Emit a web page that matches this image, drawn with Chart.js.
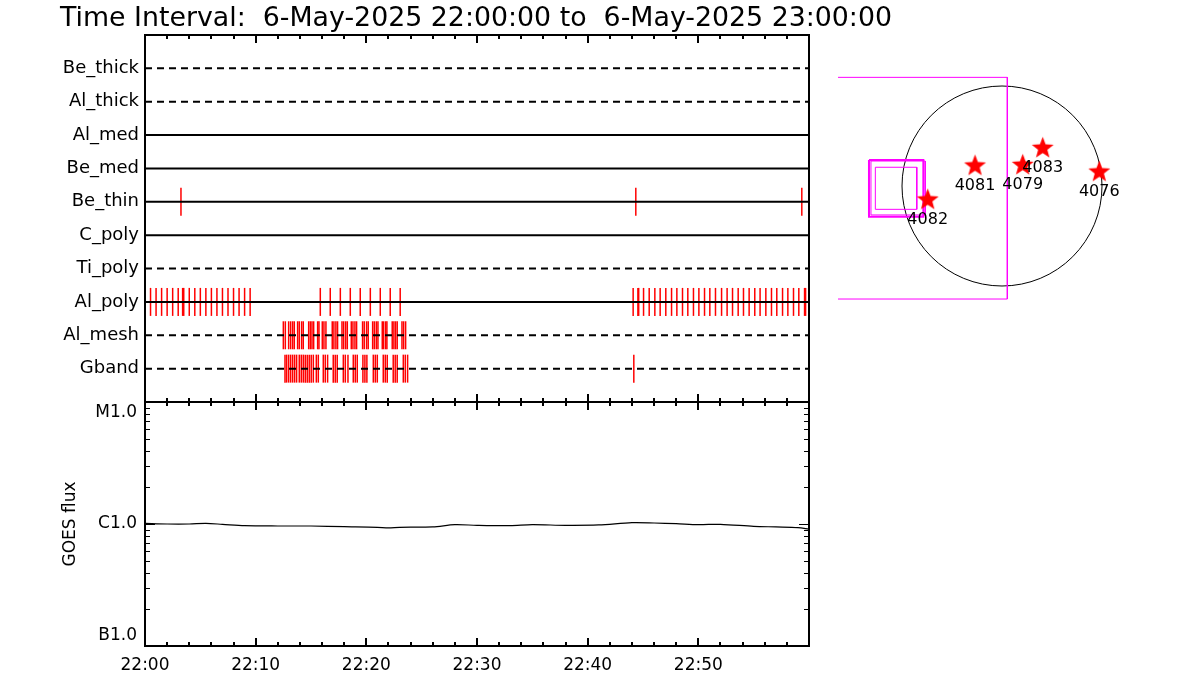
<!DOCTYPE html>
<html><head><meta charset="utf-8">
<script src="https://cdn.jsdelivr.net/npm/chart.js@4.4.1/dist/chart.umd.min.js"></script>
<style>
html,body{margin:0;padding:0;background:#fff}
#wrap{position:relative;width:1200px;height:700px;background:#fff}
#sun{position:absolute;left:838px;top:60px}
</style>
</head><body>
<div id="wrap">
<canvas id="main" width="1200" height="700" style="width:1200px;height:700px"></canvas>
<canvas id="sun" width="290" height="250" style="width:290px;height:250px"></canvas>
</div>
<script>
// ---------- data ----------
const titleText = 'Time Interval:  6-May-2025 22:00:00 to  6-May-2025 23:00:00';
const rowNames = ['Be_thick','Al_thick','Al_med','Be_med','Be_thin','C_poly','Ti_poly','Al_poly','Al_mesh','Gband'];
const rowDashed = [true, true, false, false, false, false, true, false, true, true];

// exposure times, minutes after 22:00
const beThinTimes = [3.25, 44.35, 59.35];
const alPolyTimes = [0.0, 0.5, 1.0, 1.5, 2.0, 2.5, 3.0, 3.4, 3.5, 4.0, 4.5, 5.0, 5.5, 6.0, 6.5, 7.0, 7.5, 8.0, 8.5, 9.0, 9.5,
  15.84, 16.74, 17.65, 18.55, 19.45, 20.36, 21.26, 22.16, 23.06,
  44.11, 44.54, 44.61, 45.05, 45.56, 46.07, 46.55, 47.06, 47.58, 48.06, 48.57, 49.05, 49.56, 50.05, 50.56, 51.04, 51.55,
  52.10, 52.60, 53.09, 53.60, 54.08, 54.59, 55.10, 55.58, 56.10, 56.61, 57.09, 57.61, 58.09, 58.60, 59.08, 59.60, 59.69];
const alMeshTimes = [12.50, 12.68, 12.98, 13.16, 13.34, 13.49, 13.79, 13.94, 14.15, 14.30, 14.79, 14.94, 15.09, 15.24,
  15.60, 15.72, 16.02, 16.17, 16.35, 16.92, 17.07, 17.25, 17.40, 17.80, 17.95, 18.13, 18.28, 18.64, 18.79, 18.97, 19.12,
  19.66, 19.81, 20.02, 20.17, 20.57, 20.72, 20.90, 21.05, 21.44, 21.56, 21.74, 21.86, 22.34, 22.49, 22.64, 22.79,
  23.22, 23.37, 23.55];
const gbandTimes = [12.65, 12.80, 12.98, 13.16, 13.34, 13.52, 13.70, 13.94, 14.12, 14.30, 14.48, 14.66, 14.84, 15.02,
  15.21, 15.48, 15.66, 16.11, 16.29, 16.50, 17.01, 17.19, 17.37, 17.92, 18.10, 18.34, 18.82, 19.00, 19.18, 19.69,
  19.87, 20.05, 20.63, 20.81, 20.99, 21.53, 21.71, 21.89, 22.43, 22.61, 22.79, 23.34, 23.52, 23.73, 44.17];
const rowExposures = [[], [], [], [], beThinTimes, [], [], alPolyTimes, alMeshTimes, gbandTimes];

const xTickValues = [0, 10, 20, 30, 40, 50];
const xTickLabels = ['22:00', '22:10', '22:20', '22:30', '22:40', '22:50'];
const xMinorTicks = [0, 2, 4, 6, 8, 10, 12, 14, 16, 18, 20, 22, 24, 26, 28, 30, 32, 34, 36, 38, 40, 42, 44, 46, 48, 50, 52, 54, 56, 58, 60];
const xMajorTicks = [0, 10, 20, 30, 40, 50, 60];

const goesMinutes = [0, 2, 4, 5.5, 7, 9, 12, 15, 18, 21, 22, 23, 26, 28, 30, 33, 35, 38, 41, 44, 46, 48, 50, 52, 55, 57, 59, 60];
const goesFlux = [1.012e-6, 1.0e-6, 1.0e-6, 1.012e-6, 0.994e-6, 0.969e-6, 0.963e-6, 0.963e-6, 0.951e-6, 0.940e-6, 0.928e-6,
  0.940e-6, 0.946e-6, 0.988e-6, 0.975e-6, 0.969e-6, 0.988e-6, 0.975e-6, 0.982e-6, 1.025e-6, 1.019e-6, 1.006e-6, 0.988e-6,
  0.994e-6, 0.957e-6, 0.946e-6, 0.934e-6, 0.905e-6];
const goesTickValues = [1e-7, 1e-6, 1e-5];
const goesTickLabels = ['B1.0', 'C1.0', 'M1.0'];
const goesMinorTicks = [2e-7, 3e-7, 4e-7, 5e-7, 6e-7, 7e-7, 8e-7, 9e-7, 2e-6, 3e-6, 4e-6, 5e-6, 6e-6, 7e-6, 8e-6, 9e-6];
const goesMajorTicks = [1e-6];

// solar context map (arcsec)
const sunRadius = 960;
const arNumbers = ['4081', '4079', '4083', '4076', '4082'];
const arX = [-259, 199, 391, 934, -713];
const arY = [192, 199, 362, 134, -134];
const fovOuterX = [-2000, 51, 51, -2000];
const fovOuterY = [1043, 1043, -1085, -1085];
const fovThickX = [-1277, -755, -755, -1277, -1277];
const fovThickY = [250, 250, -295, -295, 250];
const fovThinX = [-1258, -737, -737, -1258, -1258];
const fovThinY = [240, 240, -278, -278, 240];
const fovInnerX = [-1216, -818, -818, -1216, -1216];
const fovInnerY = [180, 180, -224, -224, 180];

// ---------- main chart ----------
Chart.defaults.font.family = 'DejaVu Sans';
Chart.defaults.color = '#000';

const datasets = [];
rowNames.forEach((name, i) => {
  datasets.push({
    type: 'line', label: name, showLine: true, yAxisID: 'y', xAxisID: 'x',
    data: [{x: 0, y: i + 1}, {x: 60, y: i + 1}],
    borderColor: '#000', borderWidth: 2, borderDash: rowDashed[i] ? [7, 5] : [],
    pointRadius: 0, order: 1
  });
});
rowExposures.forEach((times, i) => {
  if (!times.length) return;
  datasets.push({
    type: 'scatter', label: rowNames[i] + ' exposures', yAxisID: 'y', xAxisID: 'x',
    data: times.map(t => ({x: t, y: i + 1})),
    pointStyle: 'line', pointRotation: 90, pointRadius: 14, pointHoverRadius: 14,
    pointBorderColor: '#ff0000', pointBorderWidth: 1.5, order: 2
  });
});
datasets.push({
  type: 'line', label: 'GOES', showLine: true, yAxisID: 'yGoes', xAxisID: 'x',
  data: goesMinutes.map((m, i) => ({x: m, y: goesFlux[i]})),
  borderColor: '#000', borderWidth: 1.2, pointRadius: 0, tension: 0.3, order: 1
});

const framePlugin = {
  id: 'frames',
  afterDatasetsDraw(chart) {
    const ctx = chart.ctx;
    const x = chart.scales.x, yr = chart.scales.y, yg = chart.scales.yGoes;
    ctx.save();
    ctx.strokeStyle = '#000';
    ctx.lineWidth = 2;
    ctx.strokeRect(x.left, yr.top, x.right - x.left, yr.bottom - yr.top);
    ctx.strokeRect(x.left, yg.top, x.right - x.left, yg.bottom - yg.top);
    const edges = [[yr.top, 1], [yr.bottom, -1], [yg.top, 1], [yg.bottom, -1]];
    ctx.beginPath();
    xMinorTicks.forEach(m => {
      const px = Math.round(x.getPixelForValue(m));
      const len = xMajorTicks.includes(m) ? 8 : 4;
      edges.forEach(([y, d]) => { ctx.moveTo(px, y); ctx.lineTo(px, y + d * len); });
    });
    ctx.stroke();
    ctx.lineWidth = 1;
    ctx.beginPath();
    const side = (v, len) => {
      const py = Math.round(yg.getPixelForValue(v)) + 0.5;
      ctx.moveTo(x.left, py); ctx.lineTo(x.left + len, py);
      ctx.moveTo(x.right, py); ctx.lineTo(x.right - len, py);
    };
    goesMinorTicks.forEach(v => side(v, 5));
    goesMajorTicks.forEach(v => side(v, 10));
    ctx.stroke();
    ctx.restore();
  }
};

new Chart(document.getElementById('main'), {
  type: 'scatter',
  data: {datasets},
  options: {
    responsive: false, animation: false, devicePixelRatio: 1,
    layout: {padding: {left: 60, right: 0, top: 0, bottom: 0}, autoPadding: false},
    plugins: {
      legend: {display: false}, tooltip: {enabled: false},
      title: {display: true, text: titleText, align: 'start', color: '#000',
        font: {family: 'DejaVu Sans', size: 26.8, weight: 'normal', lineHeight: 1.1}, padding: {top: 4, bottom: 1.52}}
    },
    scales: {
      x: {
        type: 'linear', position: 'bottom', min: 0, max: 60,
        grid: {display: false, drawTicks: false}, border: {display: false},
        ticks: {stepSize: 10, autoSkip: false, maxRotation: 0, padding: 9, font: {size: 17},
          callback: v => { const k = xTickValues.indexOf(v); return k >= 0 ? xTickLabels[k] : ''; }},
        afterFit: s => { s.height = 54; }
      },
      yGoes: {
        type: 'logarithmic', position: 'left', stack: 'left', stackWeight: 244, min: 1e-7, max: 1e-5,
        grid: {display: false, drawTicks: false}, border: {display: false},
        ticks: {autoSkip: false, padding: 8, font: {size: 17},
          callback: v => {
            const k = goesTickValues.findIndex(t => Math.abs(t - v) / t < 1e-6);
            if (k < 0) return '';
            if (k === 0) return [goesTickLabels[k], ''];
            if (k === goesTickValues.length - 1) return ['', goesTickLabels[k]];
            return goesTickLabels[k];
          }},
        title: {display: true, text: 'GOES flux', font: {size: 17}, padding: {top: 0, bottom: 0}},
        afterFit: s => { s.width = 85; }
      },
      y: {
        type: 'linear', position: 'left', stack: 'left', stackWeight: 367, min: 0, max: 11, reverse: true,
        grid: {display: false, drawTicks: false}, border: {display: false},
        ticks: {stepSize: 1, autoSkip: false, padding: 6, font: {size: 18},
          callback: v => (v >= 1 && v <= rowNames.length) ? rowNames[v - 1] : ''},
        afterFit: s => { s.width = 85; }
      },
      yPad: {
        type: 'linear', position: 'right', display: true,
        grid: {display: false, drawTicks: false}, border: {display: false},
        ticks: {display: false},
        afterFit: s => { s.width = 391; }
      }
    }
  },
  plugins: [framePlugin]
});

// ---------- solar context map ----------
function makeStar(r) {
  const c = document.createElement('canvas');
  c.width = c.height = Math.ceil(2 * r + 2);
  const g = c.getContext('2d');
  g.fillStyle = '#ff0000';
  g.beginPath();
  for (let i = 0; i < 10; i++) {
    const a = -Math.PI / 2 + i * Math.PI / 5;
    const rr = i % 2 ? r * 0.42 : r;
    g.lineTo(c.width / 2 + rr * Math.cos(a), c.height / 2 + rr * Math.sin(a));
  }
  g.closePath();
  g.fill();
  return c;
}
const starImg = makeStar(11.5);

const boxDs = (xs, ys, w) => ({
  type: 'line', showLine: true, data: xs.map((v, i) => ({x: v, y: ys[i]})),
  borderColor: '#ff00ff', borderWidth: w, pointRadius: 0, fill: false, order: 2
});

const sunPlugin = {
  id: 'sunLimb',
  beforeDatasetsDraw(chart) {
    const {ctx} = chart; const x = chart.scales.x, y = chart.scales.y;
    const cx = x.getPixelForValue(0), cy = y.getPixelForValue(0);
    const r = x.getPixelForValue(sunRadius) - cx;
    ctx.save(); ctx.strokeStyle = '#000'; ctx.lineWidth = 1;
    ctx.beginPath(); ctx.arc(cx, cy, r, 0, 2 * Math.PI); ctx.stroke(); ctx.restore();
  },
  afterDatasetsDraw(chart) {
    const {ctx} = chart;
    const meta = chart.getDatasetMeta(0);
    ctx.save(); ctx.fillStyle = '#000'; ctx.font = '16px "DejaVu Sans"';
    ctx.textAlign = 'center'; ctx.textBaseline = 'middle';
    meta.data.forEach((pt, i) => ctx.fillText(arNumbers[i], pt.x, pt.y + 19.5));
    ctx.restore();
  }
};

new Chart(document.getElementById('sun'), {
  type: 'scatter',
  data: {datasets: [
    {label: 'AR', data: arX.map((v, i) => ({x: v, y: arY[i]})), pointStyle: starImg, pointRadius: 11, clip: false, order: 1},
    boxDs(fovOuterX, fovOuterY, 1),
    boxDs(fovThickX, fovThickY, 2),
    boxDs(fovThinX, fovThinY, 1),
    boxDs(fovInnerX, fovInnerY, 1)
  ]},
  options: {
    responsive: false, animation: false, devicePixelRatio: 1,
    layout: {padding: 0, autoPadding: false},
    plugins: {legend: {display: false}, tooltip: {enabled: false}},
    scales: {
      x: {type: 'linear', display: false, min: -1574.4, max: 1209.6},
      y: {type: 'linear', display: false, min: -1190.4, max: 1209.6}
    }
  },
  plugins: [sunPlugin]
});
</script>
</body></html>
